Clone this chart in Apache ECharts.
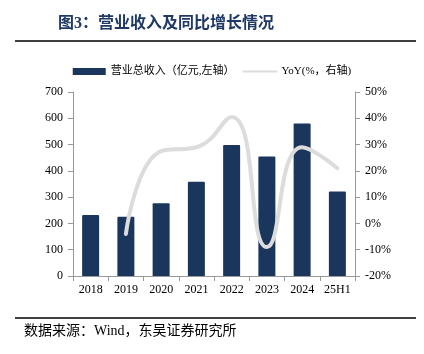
<!DOCTYPE html>
<html>
<head>
<meta charset="utf-8">
<script src="https://cdn.jsdelivr.net/npm/echarts@6/dist/echarts.min.js"></script>
<style>
  html, body { margin: 0; padding: 0; background: #fff; }
  #main { width: 424px; height: 354px; }
</style>
</head>
<body>
<div id="main"></div>
<script>
var years = ['2018', '2019', '2020', '2021', '2022', '2023', '2024', '25H1']
var revenue = [232, 225, 277, 359, 498, 455, 580, 321]
// 2018 has no YoY point
var yoy = [null, -4, 27.5, 29, 40.5, -9, 29, 21]
var leftTicks = [0, 700, 100]
var rightTicks = [-20, 50, 10]

var serif = '"Liberation Serif", "Noto Sans CJK SC", serif'
var chart = echarts.init(document.getElementById('main'))
chart.setOption({
    animation: false,
    graphic: [
        {
            type: 'text', left: 58, top: 16,
            style: { text: '图3：营业收入及同比增长情况', fill: '#1f3864', font: 'bold 16px "Liberation Serif", "Noto Sans CJK SC"' }
        },
        { type: 'line', shape: { x1: 15, y1: 41, x2: 416, y2: 41 }, style: { stroke: '#000', lineWidth: 1.5 } },
        { type: 'line', shape: { x1: 15, y1: 318, x2: 416, y2: 318 }, style: { stroke: '#000', lineWidth: 1.5 } },
        {
            type: 'text', left: 24, top: 324,
            style: { text: '数据来源：Wind，东吴证券研究所', fill: '#000', font: '14px "Liberation Serif", "Noto Sans CJK SC"' }
        }
    ],
    legend: {
        top: 61,
        left: 'center',
        itemGap: 8,
        itemWidth: 33,
        itemHeight: 7,
        textStyle: { color: '#000', fontSize: 11, fontFamily: serif },
        data: [
            { name: '营业总收入（亿元,左轴）', icon: 'rect' },
            { name: 'YoY(%，右轴)', itemStyle: { opacity: 0 } }
        ]
    },
    grid: { left: 73, right: 69, top: 92, bottom: 78 },
    xAxis: {
        type: 'category',
        data: years,
        axisLine: { lineStyle: { color: '#999' } },
        axisTick: { show: true, alignWithLabel: false, lineStyle: { color: '#999' } },
        axisLabel: { color: '#000', fontSize: 12, fontFamily: serif, margin: 8 }
    },
    yAxis: [
        {
            type: 'value',
            min: leftTicks[0], max: leftTicks[1], interval: leftTicks[2],
            axisLine: { show: true, lineStyle: { color: '#999' } },
            axisTick: { show: true, lineStyle: { color: '#999' } },
            splitLine: { show: false },
            axisLabel: { color: '#000', fontSize: 12, fontFamily: serif, margin: 10 }
        },
        {
            type: 'value',
            min: rightTicks[0], max: rightTicks[1], interval: rightTicks[2],
            axisLine: { show: true, lineStyle: { color: '#999' } },
            axisTick: { show: true, lineStyle: { color: '#999' } },
            splitLine: { show: false },
            axisLabel: { color: '#000', fontSize: 12, fontFamily: serif, margin: 10, formatter: '{value}%' }
        }
    ],
    series: [
        {
            name: '营业总收入（亿元,左轴）',
            type: 'bar',
            barWidth: 17,
            itemStyle: { color: '#1b365d', borderRadius: [1, 1, 0, 0] },
            data: revenue
        },
        {
            name: 'YoY(%，右轴)',
            type: 'line',
            yAxisIndex: 1,
            smooth: true,
            symbol: 'none',
            connectNulls: false,
            lineStyle: { color: '#dcdcdc', width: 4, cap: 'round' },
            itemStyle: { color: '#dcdcdc' },
            data: yoy
        }
    ]
})
</script>
</body>
</html>
